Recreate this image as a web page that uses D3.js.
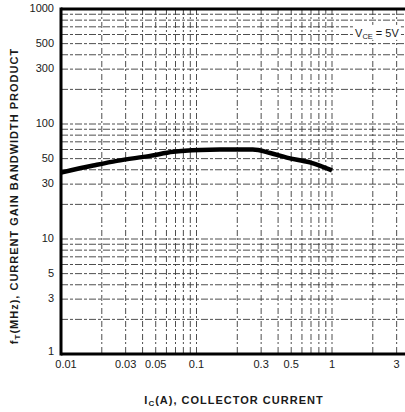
<!DOCTYPE html>
<html>
<head>
<meta charset="utf-8">
<script src="https://cdn.jsdelivr.net/npm/d3@7"></script>
<style>
html,body{margin:0;padding:0;background:#fff;}
svg{display:block;}
text{font-family:"Liberation Sans",Arial,Helvetica,sans-serif;fill:#1a1a1a;}
</style>
</head>
<body>
<svg id="chart" width="405" height="412"></svg>
<script>
// ---- data ----
const xTickValues = [0.01, 0.03, 0.05, 0.1, 0.3, 0.5, 1, 3];
const xTickLabels = ["0.01", "0.03", "0.05", "0.1", "0.3", "0.5", "1", "3"];
const yTickValues = [1, 3, 5, 10, 30, 50, 100, 300, 500, 1000];
const yTickLabels = ["1", "3", "5", "10", "30", "50", "100", "300", "500", "1000"];
const collectorCurrent = [0.01, 0.0173, 0.0258, 0.0454, 0.0671, 0.106, 0.149, 0.26, 0.35, 0.464, 0.686, 1.0];
const gainBandwidth   = [37.8, 43.5, 47.8, 52.8, 57.3, 59.5, 59.9, 59.9, 55.9, 51.0, 46.4, 39.5];
const xTitle = "(A), COLLECTOR CURRENT";
const yTitle = "(MHz), CURRENT GAIN BANDWIDTH PRODUCT";

// ---- layout ----
const W = 405, H = 412;
const plot = {left: 61, right: 405, top: 9, bottom: 354};
const svg = d3.select("#chart");

const x = d3.scaleLog().domain([0.01, 1]).range([plot.left, 332]);
const xMax = x.invert(plot.right);
const y = d3.scaleLog().domain([1, 1000]).range([plot.bottom, plot.top]);

// grid values (1..9 per decade)
const xGrid = [];
[0.01, 0.1, 1].forEach(d => { for (let k = 1; k <= 9; k++) { const v = d * k; if (v <= xMax) xGrid.push(v); } });
const yGrid = [];
[1, 10, 100].forEach(d => { for (let k = 1; k <= 9; k++) yGrid.push(d * k); });
yGrid.push(1000);

const g = svg.append("g");

// horizontal grid
g.append("g").selectAll("line").data(yGrid).join("line")
  .attr("x1", plot.left).attr("x2", plot.right)
  .attr("y1", d => y(d)).attr("y2", d => y(d))
  .attr("stroke", "#3a3a3a")
  .attr("stroke-width", 0.9)
  .attr("stroke-dasharray", "7,2,3,2");

// vertical grid
g.append("g").selectAll("line").data(xGrid).join("line")
  .attr("x1", d => x(d)).attr("x2", d => x(d))
  .attr("y1", plot.top).attr("y2", plot.bottom)
  .attr("stroke", "#3a3a3a")
  .attr("stroke-width", 0.9)
  .attr("stroke-dasharray", "6,2,2,3");

// frame (left, top, bottom thick)
g.append("line").attr("x1", plot.left).attr("x2", plot.left).attr("y1", plot.top - 1.5).attr("y2", plot.bottom + 1.5)
  .attr("stroke", "#000").attr("stroke-width", 3);
g.append("line").attr("x1", plot.left).attr("x2", plot.right).attr("y1", plot.top).attr("y2", plot.top)
  .attr("stroke", "#000").attr("stroke-width", 3);
g.append("line").attr("x1", plot.left).attr("x2", plot.right).attr("y1", plot.bottom).attr("y2", plot.bottom)
  .attr("stroke", "#000").attr("stroke-width", 3);

// VCE label with white background
const lab = svg.append("g").attr("transform", `translate(${x(1.75)},${y(620)})`);
lab.append("rect").attr("x", -12).attr("y", -8).attr("width", 48).attr("height", 15).attr("fill", "#fff");
const lt = lab.append("text").attr("font-size", 11).attr("text-anchor", "middle").attr("dy", "0.35em").attr("x", 12);
lt.append("tspan").text("V");
lt.append("tspan").attr("font-size", 7.5).attr("dy", 2).text("CE");
lt.append("tspan").attr("dy", -2).text(" = 5V");

// curve
const line = d3.line()
  .x(d => x(d[0])).y(d => y(d[1]))
  .curve(d3.curveMonotoneX);
svg.append("path")
  .datum(collectorCurrent.map((c, i) => [c, gainBandwidth[i]]))
  .attr("d", line)
  .attr("fill", "none")
  .attr("stroke", "#000")
  .attr("stroke-width", 4.5)
  .attr("stroke-linecap", "butt");

// y tick labels
svg.append("g").selectAll("text").data(yTickValues).join("text")
  .attr("x", 54).attr("y", d => y(d))
  .attr("dy", (d, i) => i === 0 ? "0.05em" : "0.3em")
  .attr("text-anchor", "end")
  .attr("font-size", 11)
  .text((d, i) => yTickLabels[i]);

// x tick labels
svg.append("g").selectAll("text").data(xTickValues).join("text")
  .attr("x", d => x(d)).attr("y", plot.bottom + 14)
  .attr("dx", (d, i) => i === 0 ? 5 : 0)
  .attr("text-anchor", "middle")
  .attr("font-size", 11)
  .text((d, i) => xTickLabels[i]);

// x title
const xt = svg.append("text").attr("x", 234).attr("y", 404)
  .attr("text-anchor", "middle").attr("font-size", 11).attr("font-weight", "bold")
  .attr("letter-spacing", 1);
xt.append("tspan").text("I");
xt.append("tspan").attr("font-size", 8).attr("dy", 2).text("C");
xt.append("tspan").attr("dy", -2).text(xTitle);

// y title
const yt = svg.append("text")
  .attr("transform", `translate(18,196) rotate(-90)`)
  .attr("text-anchor", "middle").attr("font-size", 11).attr("font-weight", "bold")
  .attr("letter-spacing", 1);
yt.append("tspan").text("f");
yt.append("tspan").attr("font-size", 8).attr("dy", 2).text("T");
yt.append("tspan").attr("dy", -2).text(yTitle);
</script>
</body>
</html>
